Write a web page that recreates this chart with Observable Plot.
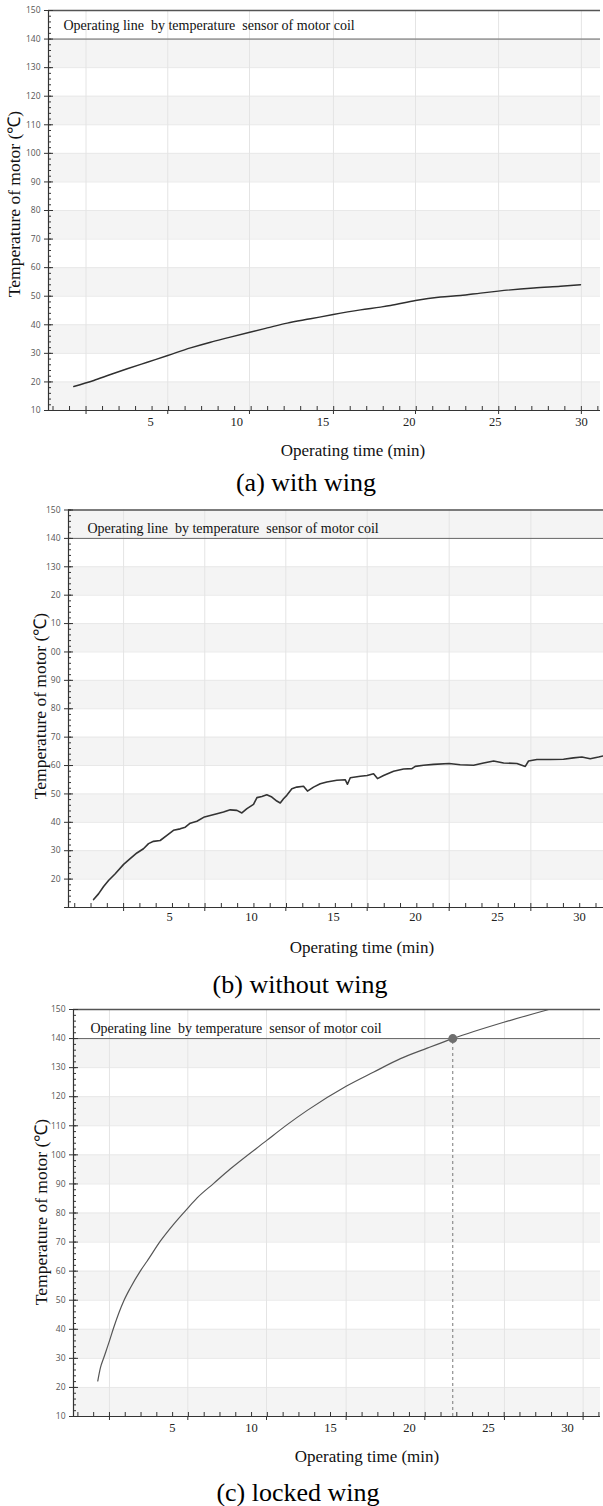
<!DOCTYPE html>
<html>
<head>
<meta charset="utf-8">
<script src="https://cdn.jsdelivr.net/npm/d3@7"></script>
<script src="https://cdn.jsdelivr.net/npm/@observablehq/plot@0.6"></script>
<style>
  body { margin: 0; background: #fff; }
  #fig { position: relative; width: 603px; height: 1506px; overflow: hidden; font-family: "Liberation Serif", "Times New Roman", serif; color: #111; }
  #fig svg { position: absolute; left: 0; }
  .txt { position: absolute; line-height: 1; white-space: pre; }
  .xt { font-size: 17px; transform: translate(-50%, -50%); }
  .cap { font-size: 26px; color: #000; transform: translate(-50%, -50%); }
  .yt { font-size: 17.5px; transform: translate(-50%, -50%) rotate(-90deg); }
  svg.oplbl text { white-space: pre; }
</style>
</head>
<body>
<div id="fig"></div>
<script>
// ---------------- data ----------------
const yTickValues = [10, 20, 30, 40, 50, 60, 70, 80, 90, 100, 110, 120, 130, 140, 150];
const yTickLabelsA = ["10", "20", "30", "40", "50", "60", "70", "80", "90", "100", "110", "120", "130", "140", "150"];
const yTickLabelsB = ["", "20", "30", "40", "50", "60", "70", "80", "90", "00", "10", "20", "130", "140", "150"];
const yTickLabelsC = ["10", "20", "30", "40", "50", "60", "70", "80", "90", "100", "110", "120", "130", "140", "150"];
const xLabelValues = [5, 10, 15, 20, 25, 30];
const xTickLabels = ["5", "10", "15", "20", "25", "30"];

// vertical grid / major tick positions (in the units of the printed minute labels)
const gridA = [1.26, 6.0, 10.74, 15.61, 20.37, 25.19, 29.99];
const gridB = [2.2, 7.15, 12.09, 17.05, 22.05, 27.03];
const gridC = [1.01, 5.97, 10.95, 15.99, 20.97, 26.01, 30.99];

// shaded horizontal bands (lower bound of each 10-degree band)
const bandsA = [10, 30, 50, 70, 90, 110, 130];
const bandsB = [20, 40, 60, 80, 100, 120, 140];
const bandsC = [10, 30, 50, 70, 90, 110, 130];

const operatingLimit = 140;

// (a) with wing
const timeA = [0.55, 1.71, 2.68, 3.65, 4.81, 6.0, 7.32, 8.48, 9.45, 10.76, 11.77, 12.93, 14.28, 15.6, 17.18, 18.34, 18.92, 20.37, 21.82, 22.98, 24.14, 25.17, 27.23, 28.78, 29.94];
const tempA = [18.4, 20.5, 22.6, 24.6, 26.9, 29.25, 31.9, 33.9, 35.4, 37.4, 38.9, 40.6, 42.1, 43.6, 45.2, 46.2, 46.75, 48.5, 49.7, 50.25, 51.1, 51.8, 52.9, 53.5, 54.0];

// (b) without wing
const timeB = [0.37, 0.67, 0.98, 1.28, 1.69, 2.2, 2.6, 3.01, 3.41, 3.72, 4.02, 4.43, 4.84, 5.24, 5.65, 5.96, 6.26, 6.67, 7.13, 7.48, 7.89, 8.29, 8.7, 9.11, 9.41, 9.72, 10.12, 10.33, 10.63, 10.93, 11.24, 11.54, 11.75, 11.95, 12.15, 12.46, 12.76, 13.17, 13.41, 13.78, 14.19, 14.59, 15.2, 15.71, 15.85, 16.02, 16.63, 17.05, 17.44, 17.68, 18.05, 18.66, 19.27, 19.78, 19.98, 20.49, 21.1, 22.05, 22.72, 23.54, 24.15, 24.76, 25.37, 26.18, 26.69, 26.89, 27.4, 28.21, 29.02, 29.63, 30.14, 30.65, 31.16, 31.46];
const tempB = [12.8, 14.8, 17.4, 19.5, 21.9, 25.2, 27.2, 29.2, 30.7, 32.5, 33.3, 33.6, 35.4, 37.2, 37.7, 38.3, 39.7, 40.4, 41.9, 42.4, 43.0, 43.6, 44.4, 44.2, 43.3, 44.8, 46.3, 48.7, 49.1, 49.7, 48.9, 47.5, 46.8, 48.3, 49.5, 51.8, 52.4, 52.7, 51.0, 52.4, 53.6, 54.2, 54.8, 55.0, 53.4, 55.7, 56.2, 56.5, 57.1, 55.4, 56.5, 58.0, 58.8, 58.9, 59.7, 60.1, 60.4, 60.7, 60.3, 60.1, 60.9, 61.6, 60.9, 60.7, 59.7, 61.6, 62.1, 62.1, 62.2, 62.7, 63.0, 62.4, 63.0, 63.4];

// (c) locked wing
const timeC = [0.27, 0.44, 0.65, 1.01, 1.28, 1.92, 2.34, 2.97, 3.4, 4.24, 5.08, 5.97, 6.56, 7.61, 8.67, 10.95, 12.26, 13.53, 15.99, 17.74, 19.43, 21.12, 22.74, 25.97, 28.82];
const tempC = [22.2, 26.8, 30.2, 36.0, 40.6, 49.8, 54.3, 60.1, 63.5, 70.4, 76.2, 81.7, 85.2, 90.2, 95.2, 104.9, 110.4, 115.3, 123.6, 128.5, 133.1, 136.7, 140.0, 145.6, 150.0];
const crossTime = 22.74;
const crossTemp = 140;

const opLabel = "Operating line  by temperature  sensor of motor coil";
const yTitle = "Temperature of motor (\u2103)";
const xTitle = "Operating time (min)";
const captions = ["(a) with wing", "(b) without wing", "(c) locked wing"];

// ---------------- drawing ----------------
const serif = "Liberation Serif, Times New Roman, serif";
const sans = "Open Sans, DejaVu Sans, sans-serif";
const axisColor = "#333";
const fig = document.getElementById("fig");
const xLabelMap = new Map(xLabelValues.map((v, i) => [v, xTickLabels[i]]));

function panel(cfg) {
  const data = cfg.time.map((t, i) => ({t, T: cfg.temp[i]}));
  const g = cfg.grid;
  const step = (g[g.length - 1] - g[0]) / (g.length - 1) / 5;
  const minorX = [];
  for (let v = g[0]; v >= cfg.domain[0]; v -= step) minorX.push(v);
  for (let v = g[0] + step; v <= cfg.domain[1]; v += step) minorX.push(v);
  const majorX = g.filter(v => v >= cfg.domain[0] && v <= cfg.domain[1]);
  const minorY = d3.range(10, 150.001, 2);
  const labelMap = new Map(yTickValues.map((v, i) => [v, cfg.yLabels[i]]));
  const svg = Plot.plot({
    width: 603,
    height: cfg.height,
    marginTop: cfg.marginTop,
    marginBottom: 20,
    marginLeft: cfg.marginLeft,
    marginRight: cfg.marginRight,
    className: "oplbl",
    x: {domain: cfg.domain, label: null},
    y: {domain: [10, 150], label: null},
    style: {background: "transparent", overflow: "visible"},
    marks: [
      Plot.rect(cfg.bands, {x1: cfg.domain[0], x2: cfg.domain[1], y1: d => d, y2: d => d + 10, fill: "#f4f4f4"}),
      Plot.ruleY(yTickValues, {stroke: "#e8e8e8"}),
      Plot.ruleX(majorX, {stroke: "#e4e4e4"}),
      Plot.ruleY([operatingLimit], {stroke: "#666", strokeWidth: 1}),
      Plot.ruleY([150], {stroke: "#555", strokeWidth: 1.6}),
      Plot.line(data, {x: "t", y: "T", stroke: cfg.lineStroke, strokeWidth: cfg.lineWidth, curve: cfg.curve}),
      ...(cfg.extra || []),
      Plot.text([opLabel], {frameAnchor: "top-left", dx: cfg.labelDx, dy: cfg.labelDy, lineAnchor: "middle", textAnchor: "start", fontFamily: serif, fontSize: 14, fill: "#111"}),
      Plot.ruleX([cfg.domain[0]], {stroke: axisColor, strokeWidth: 1.2}),
      Plot.ruleY([10], {stroke: axisColor, strokeWidth: 1.2}),
      Plot.axisY({ticks: yTickValues, tickSize: 4, fill: "none", stroke: axisColor}),
      Plot.axisY({ticks: yTickValues, tickSize: -5, fill: "none", stroke: axisColor}),
      Plot.axisY({ticks: minorY, tickSize: -3, fill: "none", stroke: axisColor}),
      Plot.axisY({ticks: yTickValues, tickSize: 0, tickPadding: 8, tickFormat: d => labelMap.get(d), fill: "#555", fontFamily: sans, fontSize: 8.5}),
      Plot.axisX({ticks: majorX, tickSize: 4, fill: "none", stroke: axisColor}),
      Plot.axisX({ticks: minorX, tickSize: -4, fill: "none", stroke: axisColor}),
      Plot.axisX({ticks: xLabelValues, tickSize: 0, tickPadding: cfg.xLabelPad, tickFormat: d => xLabelMap.get(d), fill: "#222", fontFamily: serif, fontSize: 12.5})
    ]
  });
  svg.style.top = cfg.top + "px";
  fig.appendChild(svg);
}

function addText(cls, text, cx, cy) {
  const d = document.createElement("div");
  d.className = "txt " + cls;
  d.textContent = text;
  d.style.left = cx + "px";
  d.style.top = cy + "px";
  fig.appendChild(d);
}

panel({
  top: 0, height: 430, marginTop: 10, marginLeft: 48, marginRight: 3,
  domain: [-0.917, 31.1], grid: gridA, bands: bandsA, yLabels: yTickLabelsA,
  time: timeA, temp: tempA, lineStroke: "#2f2f2f", lineWidth: 1.4, curve: "monotone-x",
  labelDx: 15, labelDy: 15, xLabelPad: 7
});
panel({
  top: 495, height: 432, marginTop: 14.5, marginLeft: 68, marginRight: 0,
  domain: [-1.16, 31.46], grid: gridB, bands: bandsB, yLabels: yTickLabelsB,
  time: timeB, temp: tempB, lineStroke: "#333", lineWidth: 1.6, curve: "linear",
  labelDx: 19, labelDy: 18.5, xLabelPad: 5
});
panel({
  top: 995, height: 441, marginTop: 14, marginLeft: 73, marginRight: 3,
  domain: [-1.266, 32.09], grid: gridC, bands: bandsC, yLabels: yTickLabelsC,
  time: timeC, temp: tempC, lineStroke: "#555", lineWidth: 1.2, curve: "monotone-x",
  labelDx: 17, labelDy: 19, xLabelPad: 7,
  extra: [
    Plot.ruleX([crossTime], {y1: 10, y2: crossTemp, stroke: "#777", strokeDasharray: "3,3"}),
    Plot.dot([{t: crossTime, T: crossTemp}], {x: "t", y: "T", r: 4.5, fill: "#6e6e6e"})
  ]
});

addText("yt", yTitle, 15, 204);
addText("yt", yTitle, 41, 706);
addText("yt", yTitle, 42, 1212);
addText("xt", xTitle, 353, 450);
addText("xt", xTitle, 362, 947);
addText("xt", xTitle, 367, 1456);
addText("cap", captions[0], 306, 483);
addText("cap", captions[1], 300, 985);
addText("cap", captions[2], 298, 1493);
</script>
</body>
</html>
